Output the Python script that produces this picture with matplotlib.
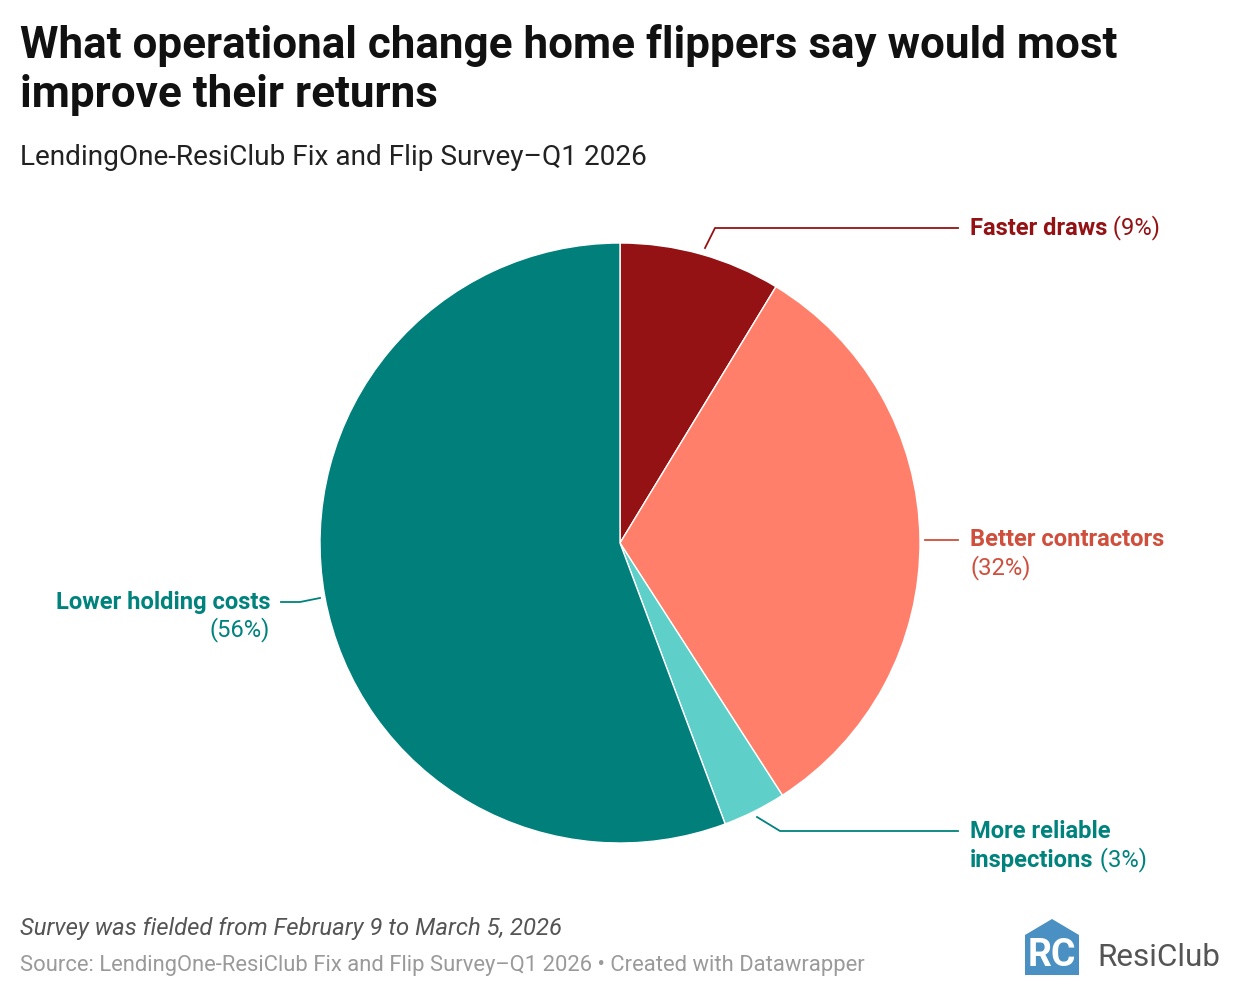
import matplotlib
matplotlib.use("Agg")
import matplotlib.pyplot as plt
from matplotlib.patches import Polygon

plt.rcParams['font.family'] = ['Roboto', 'DejaVu Sans']

categories = ["Faster draws", "Better contractors", "More reliable inspections", "Lower holding costs"]
shares = [8.7, 32.2, 3.4, 55.7]
wedge_colors = ["#941114", "#ff7f6b", "#5ecfc9", "#007f7b"]
label_colors = ["#941114", "#cf4f3c", "#00827d", "#00827d"]

W, H = 1240, 998
fig = plt.figure(figsize=(W / 100, H / 100), dpi=100)
ax = fig.add_axes([0, 0, 1, 1])
ax.set_xlim(0, W)
ax.set_ylim(0, H)
ax.axis("off")

def Y(py):
    return H - py

cx, cy, r = 620, 543, 300
ax.pie(shares, colors=wedge_colors, startangle=90, counterclock=False,
       center=(cx, Y(cy)), radius=r, frame=True,
       wedgeprops=dict(edgecolor="white", linewidth=1.0))
ax.set_xlim(0, W)
ax.set_ylim(0, H)
ax.axis("off")

# Title and subtitle
ax.text(20, Y(45), "What operational change home flippers say would most", fontsize=31.7,
        fontweight="bold", color="#111111", va="center", ha="left")
ax.text(20, Y(95), "improve their returns", fontsize=31.7,
        fontweight="bold", color="#111111", va="center", ha="left")
ax.text(20, Y(157), "LendingOne-ResiClub Fix and Flip Survey\u2013Q1 2026", fontsize=20.2,
        color="#222222", va="center", ha="left")

lbl_fs = 17.1
def label(x, y, bold, normal, color):
    t = ax.text(x, Y(y), bold, fontsize=lbl_fs, fontweight="bold", color=color,
                va="center", ha="left")
    if normal:
        ax.annotate(" " + normal, xycoords=t, xy=(1, 0), va="bottom", ha="left",
                    fontsize=lbl_fs, color=color)

lw = 1.3
pct = [f"({round(s)}%)" for s in shares]

# Faster draws
ax.plot([705, 715, 958], [Y(248), Y(228), Y(228)], color=label_colors[0], lw=lw)
label(970, 228, categories[0], pct[0], label_colors[0])

# Better contractors
ax.plot([925, 958], [Y(540), Y(540)], color=label_colors[1], lw=lw)
label(970, 540, categories[1], None, label_colors[1])
ax.text(970, Y(568), pct[1], fontsize=lbl_fs, color=label_colors[1], va="center", ha="left")

# More reliable inspections
ax.plot([757, 780, 958], [Y(817), Y(831), Y(831)], color=label_colors[2], lw=lw)
ax.text(970, Y(832), "More reliable", fontsize=lbl_fs, fontweight="bold",
        color=label_colors[2], va="center", ha="left")
label(970, 860, "inspections", pct[2], label_colors[2])

# Lower holding costs
ax.plot([320, 300, 281], [Y(598), Y(602), Y(602)], color=label_colors[3], lw=lw)
ax.text(270, Y(602), categories[3], fontsize=lbl_fs, fontweight="bold",
        color=label_colors[3], va="center", ha="right")
ax.text(270, Y(630), pct[3], fontsize=lbl_fs, color=label_colors[3], va="center", ha="right")

# Footer
ax.text(20, Y(928), "Survey was fielded from February 9 to March 5, 2026", fontsize=17.2,
        style="italic", color="#555555", va="center", ha="left")
ax.text(20, Y(965), "Source: LendingOne-ResiClub Fix and Flip Survey\u2013Q1 2026 \u2022 Created with Datawrapper",
        fontsize=15.8, color="#9a9a9a", va="center", ha="left")

# Logo
house = Polygon([(1025, Y(975)), (1025, Y(935)), (1052, Y(919)), (1079, Y(935)), (1079, Y(975))],
                closed=True, facecolor="#4a90c2", edgecolor="none")
ax.add_patch(house)
ax.text(1052, Y(955), "RC", fontsize=27, fontweight="bold", color="white",
        va="center", ha="center")
ax.text(1097, Y(957), "ResiClub", fontsize=22.6, color="#555555", va="center", ha="left")

fig.savefig("out.png", dpi=100, facecolor="white")
